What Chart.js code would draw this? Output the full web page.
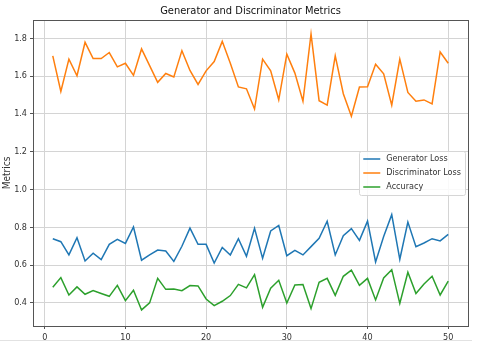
<!DOCTYPE html>
<html lang="en">
<head>
  <meta charset="UTF-8">
  <title>Generator and Discriminator Metrics</title>
  <script src="https://cdn.jsdelivr.net/npm/chart.js"></script>
  <style>
    body {
      margin: 0;
      background: #ffffff;
    }
    #wrap {
      position: relative;
      width: 480px;
      height: 348px;
    }
    #edge {
      position: absolute;
      left: 0;
      top: 340px;
      width: 472px;
      height: 1px;
      background: #e2e2e2;
    }
  </style>
</head>
<body>

  <div id="wrap">
    <canvas id="metricsChart" width="480" height="348"></canvas>
    <div id="edge"></div>
  </div>

  <script>
    const epochs = [];
    for (let i = 1; i <= 50; i++) epochs.push(i);

    const generatorLoss = [
      0.740, 0.724, 0.654, 0.745, 0.622, 0.663, 0.629, 0.710, 0.737, 0.715,
      0.802, 0.626, 0.654, 0.680, 0.675, 0.620, 0.700, 0.796, 0.710, 0.710,
      0.611, 0.694, 0.654, 0.740, 0.647, 0.795, 0.636, 0.781, 0.810, 0.650,
      0.678, 0.654, 0.698, 0.742, 0.832, 0.654, 0.756, 0.793, 0.731, 0.833,
      0.617, 0.752, 0.867, 0.631, 0.828, 0.698, 0.717, 0.740, 0.728, 0.763
    ];
    const discriminatorLoss = [
      1.707, 1.519, 1.690, 1.602, 1.779, 1.693, 1.693, 1.725, 1.649, 1.668,
      1.604, 1.744, 1.656, 1.567, 1.614, 1.596, 1.735, 1.630, 1.556, 1.628,
      1.677, 1.784, 1.668, 1.543, 1.533, 1.426, 1.690, 1.628, 1.475, 1.716,
      1.616, 1.467, 1.823, 1.470, 1.447, 1.707, 1.507, 1.388, 1.542, 1.544,
      1.663, 1.612, 1.446, 1.690, 1.514, 1.467, 1.474, 1.453, 1.728, 1.668
    ];
    const accuracy = [
      0.483, 0.534, 0.442, 0.485, 0.446, 0.465, 0.450, 0.435, 0.493, 0.412,
      0.467, 0.363, 0.400, 0.530, 0.472, 0.474, 0.465, 0.492, 0.490, 0.421,
      0.386, 0.409, 0.439, 0.498, 0.480, 0.550, 0.377, 0.478, 0.520, 0.400,
      0.495, 0.497, 0.370, 0.509, 0.530, 0.440, 0.541, 0.574, 0.493, 0.530,
      0.416, 0.532, 0.576, 0.398, 0.562, 0.450, 0.500, 0.541, 0.442, 0.515
    ];

    const xTicks = [0, 10, 20, 30, 40, 50];
    const yTicks = [0.4, 0.6, 0.8, 1.0, 1.2, 1.4, 1.6, 1.8];

    const toPoints = arr => arr.map((v, i) => ({ x: epochs[i], y: v }));

    const FONT = "'DejaVu Sans Condensed', 'DejaVu Sans', sans-serif";
    Chart.defaults.font.family = FONT;
    Chart.defaults.font.size = 9;
    Chart.defaults.color = '#333333';

    // frame around the plot area
    const framePlugin = {
      id: 'frame',
      afterDatasetsDraw(chart) {
        const a = chart.chartArea;
        const ctx = chart.ctx;
        ctx.save();
        ctx.strokeStyle = '#555555';
        ctx.lineWidth = 1;
        ctx.strokeRect(Math.round(a.left) + 0.5, Math.round(a.top) + 0.5,
          Math.round(a.right - a.left), Math.round(a.bottom - a.top));
        ctx.restore();
      }
    };

    // title centred over the plot area, like matplotlib
    const axesTitle = {
      id: 'axesTitle',
      afterDraw(chart) {
        const a = chart.chartArea;
        const ctx = chart.ctx;
        ctx.save();
        ctx.font = '11px ' + FONT;
        ctx.fillStyle = '#111111';
        ctx.textAlign = 'center';
        ctx.textBaseline = 'middle';
        ctx.fillText('Generator and Discriminator Metrics', (a.left + a.right) / 2, a.top - 9);
        ctx.restore();
      }
    };

    // matplotlib-like legend, center right inside the plot
    const innerLegend = {
      id: 'innerLegend',
      afterDraw(chart) {
        const a = chart.chartArea;
        const ctx = chart.ctx;
        const items = chart.data.datasets;
        ctx.save();
        ctx.font = '9px ' + FONT;
        let maxW = 0;
        items.forEach(d => { maxW = Math.max(maxW, ctx.measureText(d.label).width); });
        const rowH = 14;
        const w = 4 + 17 + 6 + maxW + 4;
        const h = items.length * rowH + 2;
        const x = a.right - 3 - w;
        const y = (a.top + a.bottom) / 2 - h / 2;
        ctx.fillStyle = 'rgba(255,255,255,0.85)';
        ctx.strokeStyle = '#d6d6d6';
        ctx.lineWidth = 1;
        ctx.beginPath();
        ctx.roundRect(Math.round(x) + 0.5, Math.round(y) + 0.5, Math.round(w), Math.round(h), 2);
        ctx.fill();
        ctx.stroke();
        items.forEach((d, i) => {
          const cy = y + 1 + rowH * i + rowH / 2;
          ctx.strokeStyle = d.borderColor;
          ctx.lineWidth = 1.5;
          ctx.beginPath();
          ctx.moveTo(x + 4, cy);
          ctx.lineTo(x + 21, cy);
          ctx.stroke();
          ctx.fillStyle = '#333333';
          ctx.textBaseline = 'middle';
          ctx.fillText(d.label, x + 27, cy);
        });
        ctx.restore();
      }
    };

    const ctx = document.getElementById('metricsChart').getContext('2d');
    new Chart(ctx, {
      type: 'line',
      data: {
        datasets: [
          { label: 'Generator Loss', data: toPoints(generatorLoss), borderColor: '#1f77b4' },
          { label: 'Discriminator Loss', data: toPoints(discriminatorLoss), borderColor: '#ff7f0e' },
          { label: 'Accuracy', data: toPoints(accuracy), borderColor: '#2ca02c' }
        ]
      },
      options: {
        responsive: false,
        animation: false,
        datasets: {
          line: { borderWidth: 1.5, pointRadius: 0, tension: 0, fill: false }
        },
        layout: { padding: { left: 0, right: 12, top: 20, bottom: 0 } },
        plugins: {
          legend: { display: false },
          tooltip: { enabled: false },
          title: { display: false }
        },
        scales: {
          x: {
            type: 'linear',
            min: -1.45,
            max: 52.45,
            afterFit(scale) { scale.height = 22; },
            afterBuildTicks(scale) { scale.ticks = xTicks.map(v => ({ value: v })); },
            ticks: { padding: 3, color: '#333333' },
            grid: { color: '#d4d4d4', tickLength: 3, tickColor: '#555555' },
            border: { color: '#555555' }
          },
          y: {
            type: 'linear',
            min: 0.278,
            max: 1.897,
            afterFit(scale) { scale.width = 33; },
            afterBuildTicks(scale) { scale.ticks = yTicks.map(v => ({ value: v })); },
            ticks: {
              padding: 3,
              color: '#333333',
              callback: v => v.toFixed(1)
            },
            grid: { color: '#d4d4d4', tickLength: 3, tickColor: '#555555' },
            border: { color: '#555555' },
            title: {
              display: true,
              text: 'Metrics',
              color: '#333333',
              font: { size: 10 },
              padding: { top: 1, bottom: 0 }
            }
          }
        }
      },
      plugins: [framePlugin, axesTitle, innerLegend]
    });
  </script>

</body>
</html>
